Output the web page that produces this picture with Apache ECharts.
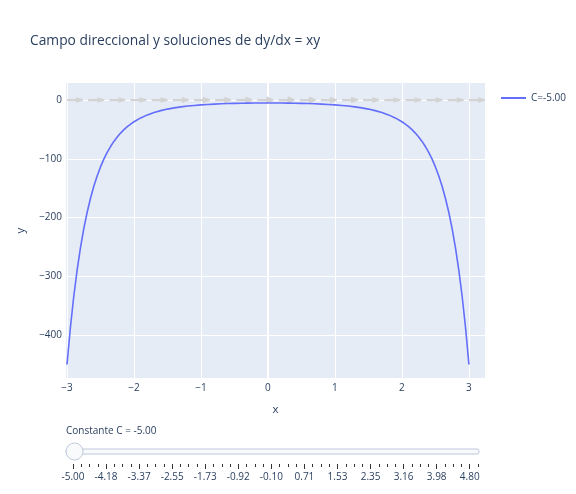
<!DOCTYPE html>
<html>
<head>
<meta charset="utf-8">
<script src="https://cdn.jsdelivr.net/npm/echarts@6/dist/echarts.min.js"></script>
<style>
html,body{margin:0;padding:0;background:#fff;}
#chart{width:576px;height:494px;}
</style>
</head>
<body>
<div id="chart"></div>
<script>
// ---- Data ----
const titleText = 'Campo direccional y soluciones de dy/dx = xy';
const seriesName = 'C=-5.00';
const curveX = [-3.0,-2.95,-2.9,-2.85,-2.8,-2.75,-2.7,-2.65,-2.6,-2.55,-2.5,-2.45,-2.4,-2.35,-2.3,-2.25,-2.2,-2.15,-2.1,-2.05,-2.0,
  -1.9,-1.8,-1.7,-1.6,-1.5,-1.4,-1.3,-1.2,-1.1,-1.0,-0.9,-0.8,-0.7,-0.6,-0.5,-0.4,-0.3,-0.2,-0.1,0,
  0.1,0.2,0.3,0.4,0.5,0.6,0.7,0.8,0.9,1.0,1.1,1.2,1.3,1.4,1.5,1.6,1.7,1.8,1.9,
  2.0,2.05,2.1,2.15,2.2,2.25,2.3,2.35,2.4,2.45,2.5,2.55,2.6,2.65,2.7,2.75,2.8,2.85,2.9,2.95,3.0];
const curveY = [-450.09,-387.89,-335.14,-290.23,-252.00,-219.35,-191.41,-167.46,-146.85,-129.11,-113.80,-100.55,-89.07,-79.10,-70.42,-62.85,-56.23,-50.44,-45.35,-40.88,-36.945,
  -30.400,-25.266,-21.210,-17.983,-15.401,-13.323,-11.640,-10.272,-9.157,-8.244,-7.496,-6.886,-6.388,-5.986,-5.666,-5.416,-5.230,-5.101,-5.025,-5.0,
  -5.025,-5.101,-5.230,-5.416,-5.666,-5.986,-6.388,-6.886,-7.496,-8.244,-9.157,-10.272,-11.640,-13.323,-15.401,-17.983,-21.210,-25.266,-30.400,
  -36.945,-40.88,-45.35,-50.44,-56.23,-62.85,-70.42,-79.10,-89.07,-100.55,-113.80,-129.11,-146.85,-167.46,-191.41,-219.35,-252.00,-290.23,-335.14,-387.89,-450.09];
// direction-field grid columns (arrows along y = 0)
const arrowX = [-3,-2.684,-2.368,-2.053,-1.737,-1.421,-1.105,-0.789,-0.474,-0.158,0.158,0.474,0.789,1.105,1.421,1.737,2.053,2.368,2.684,3];
const arrowY = 0;
const ARROW_LEN = 0.24;
const xTicks = [-3,-2,-1,0,1,2,3];
const yTicks = [-400,-300,-200,-100,0];
// slider
const sliderPrefix = 'Constante C = ';
const sliderValue = '-5.00';
const sliderStepCount = 50;
const sliderLabels = ['-5.00','-4.18','-3.37','-2.55','-1.73','-0.92','-0.10','0.71','1.53','2.35','3.16','3.98','4.80'];

// ---- Chart ----
const FONT = '"Open Sans", "Noto Sans", sans-serif';
const TXT = '#2a3f5f';
const chart = echarts.init(document.getElementById('chart'), null, {renderer: 'canvas'});

const stepCats = Array.from({length: sliderStepCount}, (_, i) => String(i));

const option = {
  animation: false,
  textStyle: {fontFamily: FONT},
  title: {
    text: titleText, left: 25, top: 29,
    textStyle: {fontFamily: FONT, fontSize: 13.8, fontWeight: 'normal', color: TXT}
  },
  legend: {
    data: [seriesName], left: 496, top: 88, icon: 'rect', itemWidth: 25, itemHeight: 2,
    textStyle: {fontFamily: FONT, fontSize: 10, color: TXT}
  },
  grid: [
    {left: 66, right: 91, top: 83, bottom: 116, backgroundColor: '#E5ECF6', show: true, borderWidth: 0},
    {left: 73, width: 405, top: 464, height: 0, show: false}
  ],
  xAxis: [
    {
      type: 'value', gridIndex: 0, min: -3.015, max: 3.24,
      name: 'x', nameLocation: 'middle', nameGap: 26,
      nameTextStyle: {fontFamily: FONT, fontSize: 11.5, color: TXT},
      axisLine: {show: false}, axisTick: {show: false, customValues: xTicks},
      axisLabel: {customValues: xTicks, fontFamily: FONT, fontSize: 10, color: TXT, margin: 5,
        formatter: v => String(v).replace('-', '\u2212')},
      splitLine: {show: true, lineStyle: {color: '#fff', width: 1}}
    },
    {
      type: 'category', gridIndex: 1, data: stepCats, boundaryGap: false, position: 'bottom', offset: 2,
      axisLine: {show: false},
      axisTick: {show: true, interval: 0, length: 3, lineStyle: {color: '#333', width: 1}},
      axisLabel: {show: false}, splitLine: {show: false}
    },
    {
      type: 'category', gridIndex: 1, data: stepCats, boundaryGap: false, position: 'bottom',
      axisLine: {show: false},
      axisTick: {show: true, interval: 3, length: 5, lineStyle: {color: '#333', width: 1}},
      axisLabel: {show: true, interval: 3, margin: 8, fontFamily: FONT, fontSize: 10, color: TXT,
        formatter: (v, idx) => (idx % 4 === 0 ? sliderLabels[idx / 4] : '')},
      splitLine: {show: false}
    }
  ],
  yAxis: [
    {
      type: 'value', gridIndex: 0, min: -473, max: 29,
      name: 'y', nameLocation: 'middle', nameGap: 39,
      nameTextStyle: {fontFamily: FONT, fontSize: 11.5, color: TXT},
      axisLine: {show: false}, axisTick: {show: false, customValues: yTicks},
      axisLabel: {customValues: yTicks, fontFamily: FONT, fontSize: 10, color: TXT, margin: 4,
        formatter: v => String(v).replace('-', '\u2212')},
      splitLine: {show: true, lineStyle: {color: '#fff', width: 1}}
    },
    {type: 'value', gridIndex: 1, show: false}
  ],
  graphic: [
    {type: 'text', left: 66, top: 426,
      style: {text: sliderPrefix + sliderValue, font: '10px ' + FONT, fill: TXT}},
    {type: 'rect', shape: {x: 66, y: 449, width: 413, height: 5, r: 2},
      style: {fill: '#f8fafc', stroke: '#bec8d9', lineWidth: 1}},
    {type: 'circle', shape: {cx: 74.5, cy: 451.5, r: 8.5},
      style: {fill: '#f8fafc', stroke: '#bec8d9', lineWidth: 1}}
  ],
  series: [
    {
      type: 'custom', xAxisIndex: 0, yAxisIndex: 0, silent: true, z: 3,
      data: arrowX.map(x => [x, arrowY]),
      renderItem: function (params, api) {
        const x = api.value(0), y = api.value(1);
        const p0 = api.coord([x, y]);
        const p1 = api.coord([x + ARROW_LEN, y]);
        const headLen = 7;
        const h = 2.8 + 1.2 * Math.max(0, 1 - Math.abs(x) / 1.6);
        const c = '#d3d3d3';
        return {
          type: 'group',
          children: [
            {type: 'line', shape: {x1: p0[0], y1: p0[1], x2: p1[0] - headLen + 1, y2: p1[1]},
              style: {stroke: c, lineWidth: 2.2}},
            {type: 'polygon', shape: {points: [[p1[0] - headLen, p1[1] - h], [p1[0], p1[1] - 0.8], [p1[0], p1[1] + 0.8], [p1[0] - headLen, p1[1] + h]]},
              style: {fill: c}}
          ]
        };
      },
      markLine: {
        silent: true, symbol: 'none', label: {show: false},
        lineStyle: {color: '#fff', width: 2, type: 'solid'},
        data: [{xAxis: 0}], z: 1
      }
    },
    {
      name: seriesName, type: 'line', xAxisIndex: 0, yAxisIndex: 0, z: 4,
      data: curveX.map((x, i) => [x, curveY[i]]),
      showSymbol: false, symbol: 'none',
      lineStyle: {color: '#636efa', width: 1.6}, itemStyle: {color: '#636efa'}
    }
  ]
};
chart.setOption(option);
</script>
</body>
</html>
